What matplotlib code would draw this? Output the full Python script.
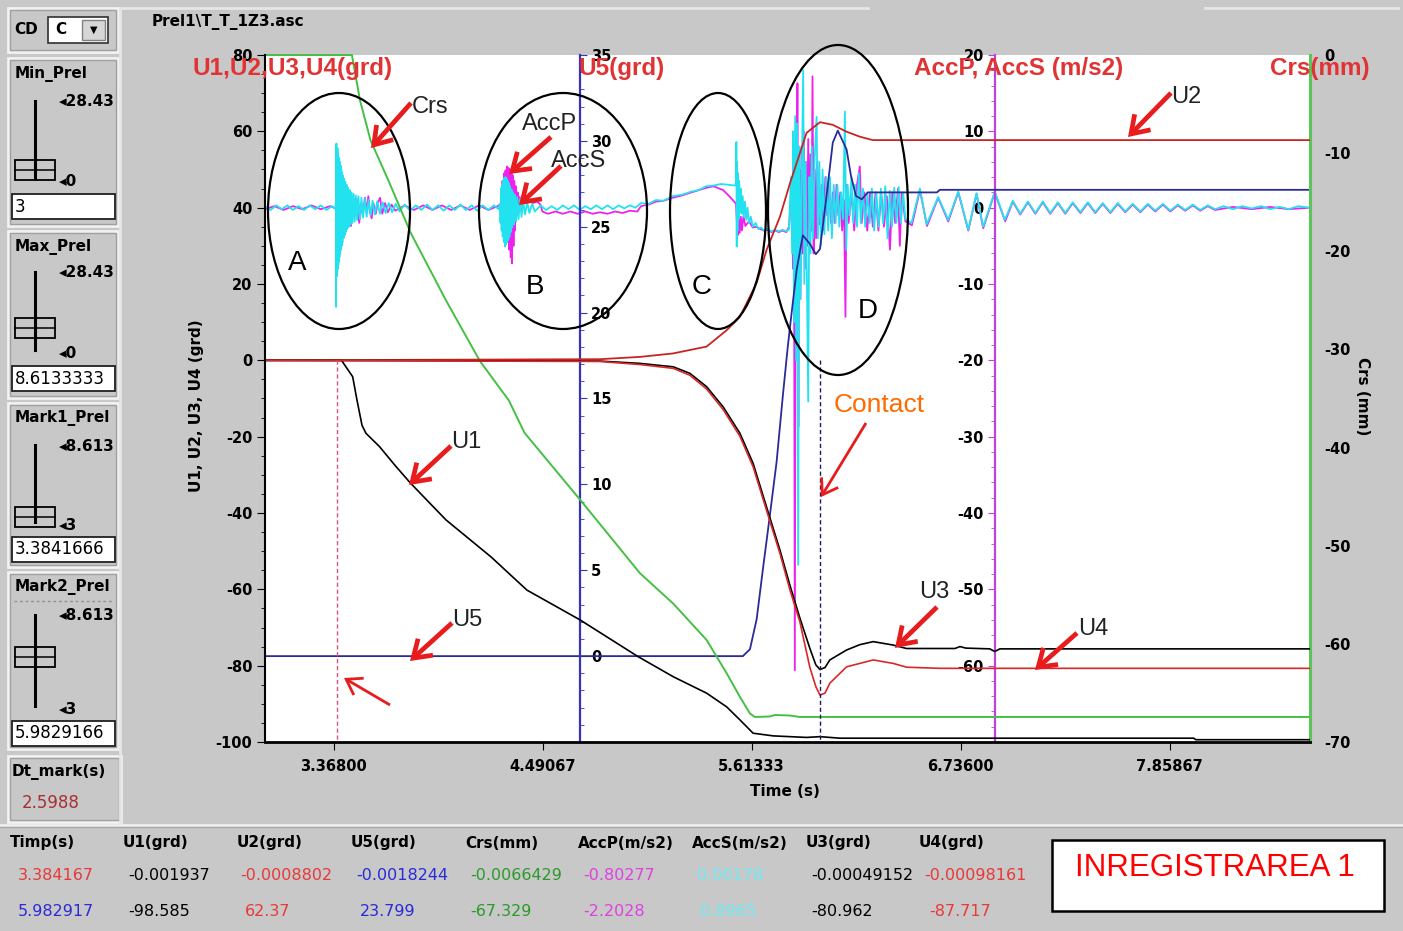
import matplotlib
matplotlib.use("Agg")
import matplotlib.pyplot as plt
from matplotlib.patches import Ellipse, Rectangle, FancyArrowPatch
from matplotlib.lines import Line2D
from matplotlib.transforms import IdentityTransform, Bbox
from matplotlib.ticker import MultipleLocator, FixedLocator

plt.rcParams['axes.unicode_minus'] = False

# ------------------------------------------------------------------ data
time_range = (3.0, 8.6133333)
x_ticks = [3.368, 4.49067, 5.61333, 6.736, 7.85867]
x_tick_labels = ["3.36800", "4.49067", "5.61333", "6.73600", "7.85867"]
mark1_t = 3.384167
mark2_t = 5.982917

u1_t = [3.000, 3.411, 3.471, 3.494, 3.521, 3.542, 3.615, 3.698, 3.782, 3.972, 4.214, 4.407,
        4.692, 5.003, 5.193, 5.372, 5.480, 5.551, 5.622, 5.730, 5.909, 5.981, 6.088, 7.989,
        8.000, 8.613]
u1_v = [0.0, 0.0, -4.3, -10.4, -17.0, -19.1, -22.6, -27.5, -32.2, -41.8, -51.5, -60.2,
        -68.0, -77.6, -82.9, -87.2, -90.8, -94.2, -97.7, -98.4, -98.8, -98.6, -99.0, -99.0,
        -99.4, -99.4]

u2_t = [3.000, 4.799, 5.014, 5.191, 5.372, 5.480, 5.551, 5.641, 5.694, 5.766, 5.820, 5.856,
        5.909, 5.981, 6.050, 6.124, 6.195, 6.265, 8.613]
u2_v = [0.0, 0.3, 0.9, 1.8, 3.6, 7.9, 11.4, 20.3, 28.9, 37.6, 46.4, 51.7,
        59.6, 62.4, 61.7, 59.9, 58.6, 57.7, 57.7]

u3_t = [3.000, 4.799, 5.014, 5.193, 5.282, 5.372, 5.461, 5.551, 5.622, 5.694, 5.766, 5.820,
        5.873, 5.927, 5.959, 5.981, 6.008, 6.034, 6.124, 6.195, 6.267, 6.374, 6.446, 6.706,
        6.733, 6.765, 6.894, 6.920, 6.947, 8.613]
u3_v = [0.0, -0.2, -0.8, -1.7, -3.4, -6.9, -12.2, -19.1, -27.0, -38.4, -49.7, -59.0,
        -67.5, -75.5, -79.8, -81.0, -80.5, -78.5, -75.9, -74.5, -73.7, -74.6, -75.5, -75.5,
        -75.0, -75.4, -75.6, -76.3, -75.6, -75.6]

u4_t = [3.000, 4.799, 5.014, 5.193, 5.282, 5.372, 5.461, 5.551, 5.622, 5.694, 5.766, 5.820,
        5.873, 5.927, 5.959, 5.981, 6.008, 6.034, 6.124, 6.267, 6.374, 6.446, 6.625, 8.613]
u4_v = [0.0, -0.3, -1.1, -2.1, -3.9, -7.5, -12.9, -19.9, -27.9, -39.3, -50.6, -60.2,
        -68.5, -80.5, -85.5, -87.7, -87.2, -84.6, -80.3, -78.5, -79.4, -80.4, -80.7, -80.7]

u5_t = [3.000, 5.567, 5.605, 5.641, 5.675, 5.712, 5.748, 5.782, 5.809, 5.829, 5.856, 5.889,
        5.927, 5.959, 5.981, 6.013, 6.050, 6.077, 6.124, 6.147, 6.174, 6.206, 6.238, 6.609,
        6.625, 8.613]
u5_v = [0.0, 0.0, 0.4, 2.15, 5.1, 8.2, 11.3, 15.2, 18.1, 20.0, 22.5, 24.5,
        24.0, 23.4, 23.7, 26.5, 29.9, 30.6, 29.5, 28.0, 26.8, 26.6, 27.0, 27.0,
        27.15, 27.15]

crs_t = [3.000, 3.467, 3.510, 3.567, 3.661, 3.782, 3.972, 4.155, 4.310, 4.394, 4.692, 5.014,
         5.193, 5.372, 5.480, 5.551, 5.605, 5.632, 5.712, 5.739, 5.820, 5.873, 8.613]
crs_v = [0.0, 0.0, -4.6, -8.7, -12.7, -18.1, -25.0, -31.2, -35.2, -38.5, -45.3, -52.8,
         -55.9, -59.6, -63.0, -65.4, -67.1, -67.45, -67.4, -67.25, -67.3, -67.45, -67.45]

acc_s = [  # (time s, AccS m/s2)
    (3.000, 0.2), (3.030, -0.3), (3.060, 0.3), (3.090, -0.2), (3.120, 0.3), (3.150, -0.3),
    (3.180, 0.2), (3.210, -0.3), (3.240, 0.3), (3.270, -0.2), (3.300, 0.3), (3.330, -0.3),
    (3.360, 0.2), (3.379, -0.2),
    (3.381, 1.0), (3.382, -13.0), (3.3835, 8.4), (3.385, -9.0), (3.3865, 7.5), (3.388, -8.5),
    (3.3895, 7.8), (3.391, -8.0), (3.3925, 7.0), (3.394, -7.5), (3.3955, 6.5), (3.397, -7.0),
    (3.3985, 6.5), (3.400, -6.5), (3.402, 6.0), (3.404, -6.0), (3.406, 5.5), (3.408, -5.5),
    (3.410, 5.0), (3.412, -5.0), (3.414, 4.5), (3.416, -4.5), (3.419, 4.2), (3.422, -4.0),
    (3.425, 3.8), (3.428, -3.6), (3.431, 3.4), (3.434, -3.2), (3.438, 3.0), (3.442, -2.8),
    (3.446, 2.6), (3.450, -2.5), (3.455, 2.3), (3.460, -2.2), (3.465, 2.0), (3.470, -2.0),
    (3.476, 1.8), (3.482, -1.8), (3.488, 1.6), (3.495, -1.6), (3.502, 1.5), (3.510, -1.5),
    (3.518, 1.3), (3.527, -1.3), (3.536, 1.2), (3.546, -1.2), (3.556, 1.0), (3.567, -1.0),
    (3.578, 0.9), (3.590, -0.9), (3.603, 0.8), (3.617, -0.8), (3.632, 0.7), (3.648, -0.7),
    (3.665, 0.6), (3.683, -0.6), (3.702, 0.5), (3.722, -0.5),
    (3.750, 0.4), (3.780, -0.4), (3.810, 0.3), (3.840, -0.3), (3.870, 0.4), (3.900, -0.3),
    (3.930, 0.3), (3.960, -0.4), (3.990, 0.3), (4.020, -0.3), (4.050, 0.4), (4.080, -0.3),
    (4.110, 0.3), (4.140, -0.4), (4.170, 0.3), (4.200, -0.3), (4.230, 0.3), (4.255, -0.2),
    (4.262, 0.5), (4.265, -2.0), (4.268, 2.5), (4.271, -3.0), (4.274, 3.0), (4.277, -3.8),
    (4.280, 3.5), (4.283, -4.5), (4.286, 3.9), (4.289, -5.1), (4.292, 4.0), (4.295, -4.8),
    (4.298, 3.8), (4.301, -4.5), (4.304, 3.5), (4.307, -4.2), (4.310, 3.2), (4.313, -3.8),
    (4.316, 2.8), (4.320, -3.2), (4.324, 2.4), (4.328, -2.6), (4.333, 2.0), (4.338, -2.2),
    (4.343, 1.7), (4.349, -1.8), (4.355, 1.4), (4.362, -1.5), (4.370, 1.1), (4.378, -1.2),
    (4.387, 0.9), (4.397, -0.9), (4.408, 0.7), (4.420, -0.7), (4.435, 0.5), (4.450, -0.5),
    (4.480, 0.3), (4.510, -0.3), (4.540, 0.2), (4.570, -0.3), (4.600, 0.3), (4.630, -0.2),
    (4.660, 0.3), (4.690, -0.3), (4.720, 0.2), (4.750, -0.2), (4.780, 0.3), (4.810, -0.2),
    (4.840, 0.3), (4.870, -0.2), (4.900, 0.3), (4.930, -0.1), (4.960, 0.3), (4.990, 0.0),
    (5.020, 0.6), (5.060, 0.5), (5.100, 1.0), (5.140, 0.9), (5.190, 1.5), (5.240, 1.7),
    (5.290, 2.1), (5.330, 2.3), (5.370, 2.8), (5.410, 2.9), (5.450, 3.1), (5.490, 3.0),
    (5.525, 2.9),
    (5.530, 3.2), (5.532, 8.6), (5.534, -5.1), (5.536, 6.0), (5.538, -3.0), (5.541, 4.5),
    (5.544, -1.5), (5.547, 3.5), (5.551, -0.5), (5.555, 2.5), (5.560, -0.8), (5.566, 1.5),
    (5.572, -1.2), (5.578, 0.8), (5.585, -1.6), (5.592, 0.0), (5.600, -2.0), (5.610, -1.2),
    (5.620, -2.5), (5.635, -2.0), (5.650, -2.8), (5.665, -2.6), (5.680, -3.0), (5.700, -2.8),
    (5.720, -3.1), (5.740, -2.9), (5.760, -3.1), (5.780, -2.9), (5.800, -3.1), (5.815, -2.8),
    (5.825, 4.0), (5.832, -6.0), (5.837, 10.0), (5.842, -15.0), (5.848, 12.0), (5.853, -20.0),
    (5.858, 11.0), (5.864, -46.8), (5.870, 8.0), (5.876, -12.0), (5.884, 5.0), (5.891, 18.0),
    (5.897, -10.0), (5.904, 6.0), (5.910, -8.0), (5.918, -25.4), (5.924, 4.0), (5.930, -6.0),
    (5.937, 8.0), (5.944, -4.0), (5.952, 6.0), (5.963, 11.9), (5.970, -4.0), (5.978, 6.0),
    (5.986, -5.0), (5.995, 5.0), (6.005, -3.5), (6.015, 4.0), (6.025, -3.0), (6.035, 4.0),
    (6.045, -4.0), (6.055, 3.0), (6.065, -2.0), (6.075, 3.0), (6.085, -2.5), (6.095, 2.0),
    (6.105, -1.5), (6.115, 12.6), (6.122, -5.5), (6.130, 3.0), (6.140, -1.0), (6.150, 4.0),
    (6.160, -2.0), (6.170, 3.0), (6.180, -2.5), (6.190, 4.5), (6.200, -2.0), (6.212, 2.5),
    (6.224, -2.5), (6.236, 2.0), (6.248, -2.0), (6.260, 2.5), (6.272, -3.0), (6.284, 2.0),
    (6.296, -2.5), (6.308, 2.5), (6.320, -2.0), (6.332, 2.8), (6.344, -4.0), (6.356, 2.2),
    (6.368, -2.5), (6.380, 2.6), (6.392, -2.0), (6.404, 2.7), (6.416, -2.0), (6.428, 2.0),
    (6.440, -1.5),
    (6.473, -2.0), (6.518, 2.5), (6.554, -2.2), (6.616, 1.4), (6.670, -1.6), (6.724, 2.1),
    (6.778, -2.9), (6.822, 1.9), (6.858, -2.5), (6.920, 2.1), (6.974, -1.6),
    (7.017, 0.9), (7.057, -0.8), (7.098, 0.8), (7.138, -0.7), (7.178, 0.8), (7.218, -0.7),
    (7.259, 0.7), (7.299, -0.7), (7.339, 0.7), (7.380, -0.6), (7.420, 0.7), (7.460, -0.6),
    (7.500, 0.6), (7.541, -0.6), (7.581, 0.6), (7.621, -0.5), (7.661, 0.5), (7.702, -0.5),
    (7.742, 0.5), (7.782, -0.4), (7.823, 0.5), (7.863, -0.4), (7.903, 0.4), (7.943, -0.3),
    (7.984, 0.4), (8.024, -0.3), (8.064, 0.3), (8.104, -0.2), (8.150, 0.2), (8.200, -0.2),
    (8.250, 0.2), (8.300, -0.1), (8.350, 0.2), (8.400, -0.2), (8.450, 0.1), (8.500, -0.2),
    (8.550, 0.2), (8.610, 0.0),
]

acc_p = [  # (time s, AccP m/s2)
    (3.000, -0.2), (3.050, 0.2), (3.100, -0.3), (3.150, 0.2), (3.200, -0.2), (3.250, 0.3),
    (3.300, -0.2), (3.350, 0.2), (3.379, -0.1),
    (3.381, 0.5), (3.383, -5.0), (3.386, 4.0), (3.390, -4.5), (3.395, 3.5), (3.400, -3.5),
    (3.406, 3.0), (3.412, -3.0), (3.420, 2.5), (3.428, -2.5), (3.436, 2.0), (3.445, -2.0),
    (3.455, 1.5), (3.462, -2.4), (3.470, 1.0), (3.480, -1.2), (3.492, 1.2), (3.500, -0.8),
    (3.506, -2.0), (3.515, 0.5), (3.525, -1.0), (3.537, 1.3), (3.546, -0.6), (3.555, 1.5),
    (3.563, -0.5), (3.573, -1.4), (3.582, 0.6), (3.595, -0.8), (3.606, 0.7), (3.618, 1.3),
    (3.630, -0.8), (3.645, 0.6), (3.660, -0.6), (3.680, 0.4), (3.700, -0.4),
    (3.750, 0.3), (3.800, -0.3), (3.850, 0.3), (3.900, -0.3), (3.950, 0.3), (4.000, -0.3),
    (4.050, 0.3), (4.100, -0.3), (4.150, 0.3), (4.200, -0.3), (4.250, 0.2),
    (4.268, 0.5), (4.272, -2.0), (4.276, 3.5), (4.280, -3.0), (4.284, 4.5), (4.288, -3.5),
    (4.292, 4.9), (4.296, -4.0), (4.300, 5.4), (4.304, -4.5), (4.308, 5.2), (4.312, -5.5),
    (4.316, 5.0), (4.320, -6.5), (4.324, 4.6), (4.327, -7.3), (4.331, 4.2), (4.335, -5.0),
    (4.339, 3.5), (4.343, -3.0), (4.348, 2.8), (4.352, -1.0), (4.357, 2.0), (4.362, 0.0),
    (4.368, 1.4), (4.374, 0.3), (4.380, 1.0), (4.400, 0.6), (4.420, 0.9), (4.440, 0.6),
    (4.460, 0.8), (4.480, 0.4), (4.490, -0.5), (4.520, -0.8), (4.560, -0.5), (4.600, -0.8),
    (4.640, -0.5), (4.680, -0.8), (4.720, -0.5), (4.760, -0.8), (4.800, -0.6), (4.840, -0.8),
    (4.880, -0.5), (4.920, -0.7), (4.960, -0.4), (5.000, -0.5), (5.020, 0.2), (5.060, 0.4),
    (5.100, 0.8), (5.140, 0.9), (5.190, 1.3), (5.240, 1.6), (5.290, 2.0), (5.330, 2.3),
    (5.370, 2.6), (5.410, 2.8), (5.440, 2.5), (5.461, 2.3), (5.490, 1.6), (5.513, 1.0),
    (5.530, 0.5),
    (5.535, -2.0), (5.540, -3.6), (5.545, -1.5), (5.550, -3.3), (5.556, -1.2), (5.562, -3.0),
    (5.570, -1.1), (5.580, -2.4), (5.600, -1.8), (5.620, -2.6), (5.640, -2.5), (5.660, -2.8),
    (5.680, -3.0), (5.700, -2.9), (5.720, -3.2), (5.740, -3.0), (5.760, -3.2), (5.780, -3.0),
    (5.800, -3.2), (5.815, -2.5),
    (5.830, 3.0), (5.836, -8.0), (5.841, 6.0), (5.846, -60.6), (5.851, 4.0), (5.855, -10.0),
    (5.860, 16.3), (5.865, -28.7), (5.870, 5.0), (5.876, -12.0), (5.882, 8.0), (5.888, -6.0),
    (5.894, 10.0), (5.900, -8.0), (5.906, 6.0), (5.912, -5.0), (5.918, 9.0), (5.924, -4.0),
    (5.930, 7.0), (5.936, -3.0), (5.941, 17.2), (5.947, -6.0), (5.953, 5.0), (5.960, -4.0),
    (5.967, 6.0), (5.975, -2.0), (5.983, -2.2), (5.990, 3.0), (6.000, -3.0), (6.010, 4.0),
    (6.020, -1.0), (6.030, 3.0), (6.040, -2.0), (6.050, 2.0), (6.060, -2.0), (6.070, 3.0),
    (6.080, -1.0), (6.090, 2.0), (6.100, -3.0), (6.110, 1.0), (6.118, -14.3), (6.124, 3.0),
    (6.135, -2.0), (6.150, 2.0), (6.165, -3.0), (6.180, 3.0), (6.195, 5.4), (6.205, -2.0),
    (6.220, 2.0), (6.235, -3.0), (6.250, 2.0), (6.265, -2.5), (6.280, 2.0), (6.295, -3.0),
    (6.310, 2.0), (6.325, -2.5), (6.340, 1.5), (6.357, -5.5), (6.370, 2.0), (6.385, -2.0),
    (6.400, 2.5), (6.410, -5.0), (6.420, 2.0), (6.440, -1.8),
    (6.475, -2.3), (6.518, 2.3), (6.556, -2.4), (6.616, 1.3), (6.670, -1.8), (6.724, 2.0),
    (6.778, -3.0), (6.822, 1.8), (6.858, -2.7), (6.920, 2.0), (6.976, -1.8),
    (7.017, 0.8), (7.057, -0.9), (7.098, 0.7), (7.138, -0.8), (7.178, 0.7), (7.218, -0.8),
    (7.259, 0.6), (7.299, -0.8), (7.339, 0.6), (7.380, -0.7), (7.420, 0.6), (7.460, -0.7),
    (7.500, 0.5), (7.541, -0.7), (7.581, 0.5), (7.621, -0.6), (7.661, 0.4), (7.702, -0.6),
    (7.742, 0.4), (7.782, -0.5), (7.823, 0.4), (7.863, -0.5), (7.903, 0.3), (7.943, -0.4),
    (7.984, 0.3), (8.024, -0.4), (8.064, 0.2), (8.104, -0.3), (8.200, 0.1), (8.300, -0.2),
    (8.400, 0.1), (8.500, -0.2), (8.613, 0.0),
]

table_headers = ["Timp(s)", "U1(grd)", "U2(grd)", "U5(grd)", "Crs(mm)", "AccP(m/s2)",
                 "AccS(m/s2)", "U3(grd)", "U4(grd)"]
table_row1 = ["3.384167", "-0.001937", "-0.0008802", "-0.0018244", "-0.0066429", "-0.80277",
              "0.00178", "-0.00049152", "-0.00098161"]
table_row2 = ["5.982917", "-98.585", "62.37", "23.799", "-67.329", "-2.2028",
              "0.8965", "-80.962", "-87.717"]

# ------------------------------------------------------------------ figure
W, H = 1403, 931
BG = '#c8c8c8'
fig = plt.figure(figsize=(W / 100, H / 100), dpi=100)
fig.patch.set_facecolor(BG)

def fx(px):
    return px / W

def fy(py):
    return 1 - py / H

def prect(x0, y0, x1, y1, **kw):
    r = Rectangle((x0, H - y1), x1 - x0, y1 - y0, transform=IdentityTransform(), **kw)
    fig.add_artist(r)
    return r

def pline(xs, ys, **kw):
    l = Line2D(xs, [H - y for y in ys], transform=IdentityTransform(), **kw)
    fig.add_artist(l)
    return l

def ptext(px, py, s, clip=None, **kw):
    t = fig.text(fx(px), fy(py), s, **kw)
    if clip is not None:
        x0, y0, x1, y1 = clip
        t.set_clip_box(Bbox.from_extents(x0, H - y1, x1, H - y0))
        t.set_clip_on(True)
    return t

L, R, T, B = 265, 1310, 55, 742
rect = [fx(L), fy(B), (R - L) / W, (B - T) / H]
UIF = 'DejaVu Sans'
TICK_FS = 10.5

def bare(a):
    a.set_xlim(*time_range)
    for s in a.spines.values():
        s.set_visible(False)
    a.tick_params(axis='x', which='both', bottom=False, top=False,
                  labelbottom=False, labeltop=False)
    a.tick_params(axis='y', which='both', left=False, right=False,
                  labelleft=False, labelright=False)

def bold_ticks(a):
    for lab in a.get_yticklabels() + a.get_xticklabels():
        lab.set_fontweight('bold')
        lab.set_fontfamily(UIF)

# accelerations axis (bottom layer, white background)
ax_acc = fig.add_axes(rect)
bare(ax_acc)
ax_acc.set_facecolor('white')
ax_acc.set_ylim(-70, 20)
sp = ax_acc.spines['left']
sp.set_visible(True)
sp.set_position(('axes', (995 - L) / (R - L)))
sp.set_color('#c040e0')
sp.set_linewidth(1.6)
ax_acc.yaxis.set_major_locator(FixedLocator([20, 10, 0, -10, -20, -30, -40, -50, -60]))
ax_acc.yaxis.set_minor_locator(MultipleLocator(2))
ax_acc.tick_params(axis='y', which='both', left=True, labelleft=True, direction='out',
                   color='#c040e0', labelcolor='black', labelsize=TICK_FS, pad=3)
ax_acc.tick_params(axis='y', which='major', length=5)
ax_acc.tick_params(axis='y', which='minor', length=3)
as_t = [p[0] for p in acc_s]
as_v = [p[1] for p in acc_s]
ap_t = [p[0] for p in acc_p]
ap_v = [p[1] for p in acc_p]
ax_acc.plot(ap_t, ap_v, color='#ee22ee', lw=1.3)
ax_acc.plot(as_t, as_v, color='#22e2f0', lw=1.3)
bold_ticks(ax_acc)

# U5 axis
ax_u5 = fig.add_axes(rect, sharex=ax_acc)
bare(ax_u5)
ax_u5.patch.set_visible(False)
ax_u5.set_ylim(-5, 35)
sp = ax_u5.spines['right']
sp.set_visible(True)
sp.set_position(('axes', (580 - L) / (R - L)))
sp.set_color('#3434b4')
sp.set_linewidth(1.6)
ax_u5.yaxis.set_major_locator(FixedLocator([0, 5, 10, 15, 20, 25, 30, 35]))
ax_u5.yaxis.set_minor_locator(MultipleLocator(1))
ax_u5.yaxis.set_ticks_position('right')
ax_u5.tick_params(axis='y', which='both', right=True, labelright=True, direction='out',
                  color='#3434b4', labelcolor='black', labelsize=TICK_FS, pad=3)
ax_u5.tick_params(axis='y', which='major', length=5)
ax_u5.tick_params(axis='y', which='minor', length=3)
ax_u5.plot(u5_t, u5_v, color='#2a2a9a', lw=1.3)
bold_ticks(ax_u5)

# Crs axis
ax_crs = fig.add_axes(rect, sharex=ax_acc)
bare(ax_crs)
ax_crs.patch.set_visible(False)
ax_crs.set_ylim(-70, 0)
sp = ax_crs.spines['right']
sp.set_visible(True)
sp.set_color('#5cc45c')
sp.set_linewidth(2.2)
ax_crs.yaxis.set_major_locator(FixedLocator([0, -10, -20, -30, -40, -50, -60, -70]))
ax_crs.yaxis.set_ticks_position('right')
ax_crs.tick_params(axis='y', which='major', right=True, labelright=True, direction='out',
                   length=0, labelcolor='black', labelsize=TICK_FS, pad=10)
ax_crs.plot(crs_t, crs_v, color='#44c044', lw=1.4, clip_on=False)
bold_ticks(ax_crs)

# U1..U4 axis (top)
ax_u = fig.add_axes(rect, sharex=ax_acc)
bare(ax_u)
ax_u.patch.set_visible(False)
ax_u.set_ylim(-100, 80)
ax_u.spines['left'].set_visible(True)
ax_u.spines['left'].set_linewidth(1.5)
ax_u.spines['bottom'].set_visible(True)
ax_u.spines['bottom'].set_linewidth(2.0)
ax_u.yaxis.set_major_locator(MultipleLocator(20))
ax_u.yaxis.set_minor_locator(MultipleLocator(5))
ax_u.yaxis.set_ticks_position('left')
ax_u.tick_params(axis='y', which='both', left=True, labelleft=True, direction='out',
                 labelsize=TICK_FS, pad=3)
ax_u.tick_params(axis='y', which='major', length=6)
ax_u.tick_params(axis='y', which='minor', length=3)
ax_u.set_xticks(x_ticks)
ax_u.set_xticklabels(x_tick_labels)
ax_u.tick_params(axis='x', which='major', bottom=True, labelbottom=True, direction='out',
                 length=6, labelsize=TICK_FS, pad=6)
ax_u.plot(u1_t, u1_v, color='black', lw=1.2)
ax_u.plot(u2_t, u2_v, color='#c82424', lw=1.3)
ax_u.plot(u3_t, u3_v, color='black', lw=1.2)
ax_u.plot(u4_t, u4_v, color='#d82828', lw=1.2)
ax_u.plot([mark1_t, mark1_t], [0, -100], color='#e0507a', lw=1.0, ls=(0, (3, 2)))
ax_u.plot([mark2_t, mark2_t], [0, -100], color='#1a1a60', lw=1.0, ls=(0, (3, 2)))
bold_ticks(ax_u)

# axis titles (inside chart)
RED_T = '#e03434'
ptext(193, 69, "U1,U2,U3,U4(grd)", color=RED_T, fontsize=17.5, fontweight='bold',
      family='Liberation Sans', va='center', ha='left')
ptext(578, 69, "U5(grd)", color=RED_T, fontsize=17.5, fontweight='bold',
      family='Liberation Sans', va='center', ha='left')
ptext(914, 69, "AccP, AccS (m/s2)", color=RED_T, fontsize=17.5, fontweight='bold',
      family='Liberation Sans', va='center', ha='left')
ptext(1270, 69, "Crs(mm)", color=RED_T, fontsize=17.5, fontweight='bold',
      family='Liberation Sans', va='center', ha='left')
ptext(197, 406, "U1, U2, U3, U4 (grd)", rotation=90, fontsize=11, fontweight='bold',
      family=UIF, va='center', ha='center')
ptext(1363, 396, "Crs (mm)", rotation=270, fontsize=11, fontweight='bold',
      family=UIF, va='center', ha='center')
ptext(785, 792, "Time (s)", fontsize=11, fontweight='bold', family=UIF,
      va='center', ha='center')

# ellipses and letters
for cx, cy, w, h in [(339, 211, 142, 236), (563, 211, 168, 236),
                     (718, 211, 96, 236), (838, 210, 140, 330)]:
    fig.add_artist(Ellipse((cx, H - cy), w, h, transform=IdentityTransform(),
                           fill=False, ec='black', lw=1.6, zorder=15))
for px, py, s in [(297, 263, "A"), (535, 287, "B"), (702, 287, "C"), (868, 311, "D")]:
    ptext(px, py, s, fontsize=20, family='Liberation Sans', ha='center', va='center',
          zorder=16)

# curve labels
for px, py, s in [(430, 107, "Crs"), (550, 124, "AccP"), (579, 161, "AccS"),
                  (466, 442, "U1"), (467, 620, "U5"), (1186, 97, "U2"),
                  (934, 592, "U3"), (1093, 629, "U4")]:
    ptext(px, py, s, fontsize=17, family='Liberation Sans', ha='center', va='center',
          color='#222222', zorder=16)
ptext(879, 405, "Contact", fontsize=19, family='Liberation Sans', ha='center',
      va='center', color='#ff6a00', zorder=16)

def arrow(x0, y0, x1, y1, lw=3.4, ms=16):
    fig.add_artist(FancyArrowPatch((x0, H - y0), (x1, H - y1),
                                   arrowstyle='->,head_length=0.75,head_width=0.5',
                                   mutation_scale=ms, lw=lw, color='#e81c1c',
                                   transform=IdentityTransform(), zorder=17,
                                   shrinkA=0, shrinkB=0, capstyle='butt',
                                   joinstyle='miter'))

arrow(411, 103, 371, 148)
arrow(551, 137, 509, 174)
arrow(561, 166, 519, 205)
arrow(451, 446, 409, 485)
arrow(452, 623, 410, 661)
arrow(1171, 93, 1128, 137)
arrow(937, 607, 895, 648)
arrow(1077, 633, 1035, 670)
arrow(866, 423, 821, 497, lw=2.0, ms=14)
arrow(390, 705, 344, 678, lw=2.0, ms=14)

# ------------------------------------------------------------------ frame / header
pline([122, 868], [8, 8], color='#e6e6e6', lw=2)
pline([1205, 1398], [8, 8], color='#e6e6e6', lw=2)
pline([120, 120], [8, 824], color='#e6e6e6', lw=2)
pline([0, 1403], [825, 825], color='#eeeeee', lw=2)
pline([0, 1403], [827, 827], color='#a8a8a8', lw=1)
ptext(152, 22, "Prel1\\T_T_1Z3.asc", fontsize=11, fontweight='bold', family=UIF,
      va='center', ha='left')

# ------------------------------------------------------------------ left panel
def panel_box(x0, y0, x1, y1):
    prect(x0, y0, x1, y1, fc=BG, ec='#f2f2f2', lw=2)
    prect(x0 + 2, y0 + 2, x1 - 2, y1 - 2, fill=False, ec='#a0a0a0', lw=1)

def field(x0, y0, x1, y1, s):
    prect(x0, y0, x1, y1, fc='white', ec='#202020', lw=1.3)
    ptext(x0 + 3, (y0 + y1) / 2, s, clip=(x0, y0, x1 - 1, y1), fontsize=12,
          family=UIF, va='center', ha='left')

def slider(x, ytop, ybot, ythumb, top_lab, bot_lab, clipx):
    pline([x, x], [ytop, ybot], color='black', lw=2.2)
    prect(x - 20, ythumb - 10, x + 20, ythumb + 10, fc=BG, ec='black', lw=1.3)
    pline([x - 20, x + 20], [ythumb, ythumb], color='black', lw=1.1)
    ptext(59, ytop + 1, "\u25c2" + top_lab, clip=(55, ytop - 12, clipx, ytop + 12),
          fontsize=11, fontweight='bold', family=UIF, va='center', ha='left')
    ptext(59, ybot + 3, "\u25c2" + bot_lab, clip=(55, ybot - 12, clipx, ybot + 14),
          fontsize=11, fontweight='bold', family=UIF, va='center', ha='left')

# CD
panel_box(8, 8, 118, 52)
ptext(14, 30, "CD", fontsize=11, fontweight='bold', family=UIF, va='center')
prect(48, 17, 108, 43, fc='white', ec='#303030', lw=1.2)
ptext(55, 30, "C", fontsize=11, fontweight='bold', family=UIF, va='center')
prect(82, 20, 105, 40, fc='#d6d6d6', ec='#808080', lw=1)
ptext(93.5, 30, "\u25bc", fontsize=7, family=UIF, va='center', ha='center')

panel_box(8, 58, 118, 226)
ptext(15, 74, "Min_Prel", clip=(10, 60, 116, 90), fontsize=11, fontweight='bold',
      family=UIF, va='center')
slider(35, 101, 178, 170, "28.43", "0", 116)
field(12, 194, 115, 219, "3")

panel_box(8, 231, 118, 398)
ptext(15, 247, "Max_Prel", clip=(10, 233, 116, 262), fontsize=11, fontweight='bold',
      family=UIF, va='center')
slider(35, 272, 350, 328, "28.43", "0", 116)
field(12, 366, 115, 391, "8.6133333")

panel_box(8, 403, 118, 567)
ptext(15, 418, "Mark1_Prel", clip=(10, 405, 116, 432), fontsize=11, fontweight='bold',
      family=UIF, va='center')
slider(35, 445, 522, 517, "8.613", "3", 116)
field(12, 537, 115, 562, "3.3841666")

panel_box(8, 572, 118, 749)
ptext(15, 587, "Mark2_Prel", clip=(10, 574, 116, 600), fontsize=11, fontweight='bold',
      family=UIF, va='center')
pline([14, 114], [601, 601], color='#909090', lw=1, ls=(0, (2, 2)))
slider(35, 615, 706, 657, "8.613", "3", 116)
field(12, 721, 115, 746, "5.9829166")

panel_box(8, 756, 121, 822)
ptext(12, 772, "Dt_mark(s)", fontsize=11, fontweight='bold', family=UIF, va='center')
ptext(22, 803, "2.5988", fontsize=12, family=UIF, va='center', color='#a83030')

# ------------------------------------------------------------------ bottom table
col_x = [10, 123, 237, 351, 465, 578, 692, 806, 919]
row1_colors = ['#e83838', 'black', '#e83838', '#2a2ad8', '#2a9a2a', '#e040e0', '#70eaf4',
               'black', '#e83838']
row2_colors = ['#2a2ad8', 'black', '#e83838', '#2a2ad8', '#2a9a2a', '#e040e0', '#70eaf4',
               'black', '#e83838']
row1_x = [18, 128, 240, 356, 470, 583, 697, 811, 924]
row2_x = [18, 128, 245, 360, 470, 583, 700, 811, 929]
for x, s in zip(col_x, table_headers):
    ptext(x, 843, s, fontsize=11, fontweight='bold', family=UIF, va='center')
for x, s, c in zip(row1_x, table_row1, row1_colors):
    ptext(x, 876, s, fontsize=11.5, family=UIF, va='center', color=c)
for x, s, c in zip(row2_x, table_row2, row2_colors):
    ptext(x, 912, s, fontsize=11.5, family=UIF, va='center', color=c)

prect(1052, 840, 1384, 911, fc='white', ec='black', lw=1.8)
ptext(1215, 868, "INREGISTRAREA 1", fontsize=22.5, family='Liberation Sans',
      color='#ff0000', va='center', ha='center')

fig.savefig("out.png", dpi=100, facecolor=BG)
